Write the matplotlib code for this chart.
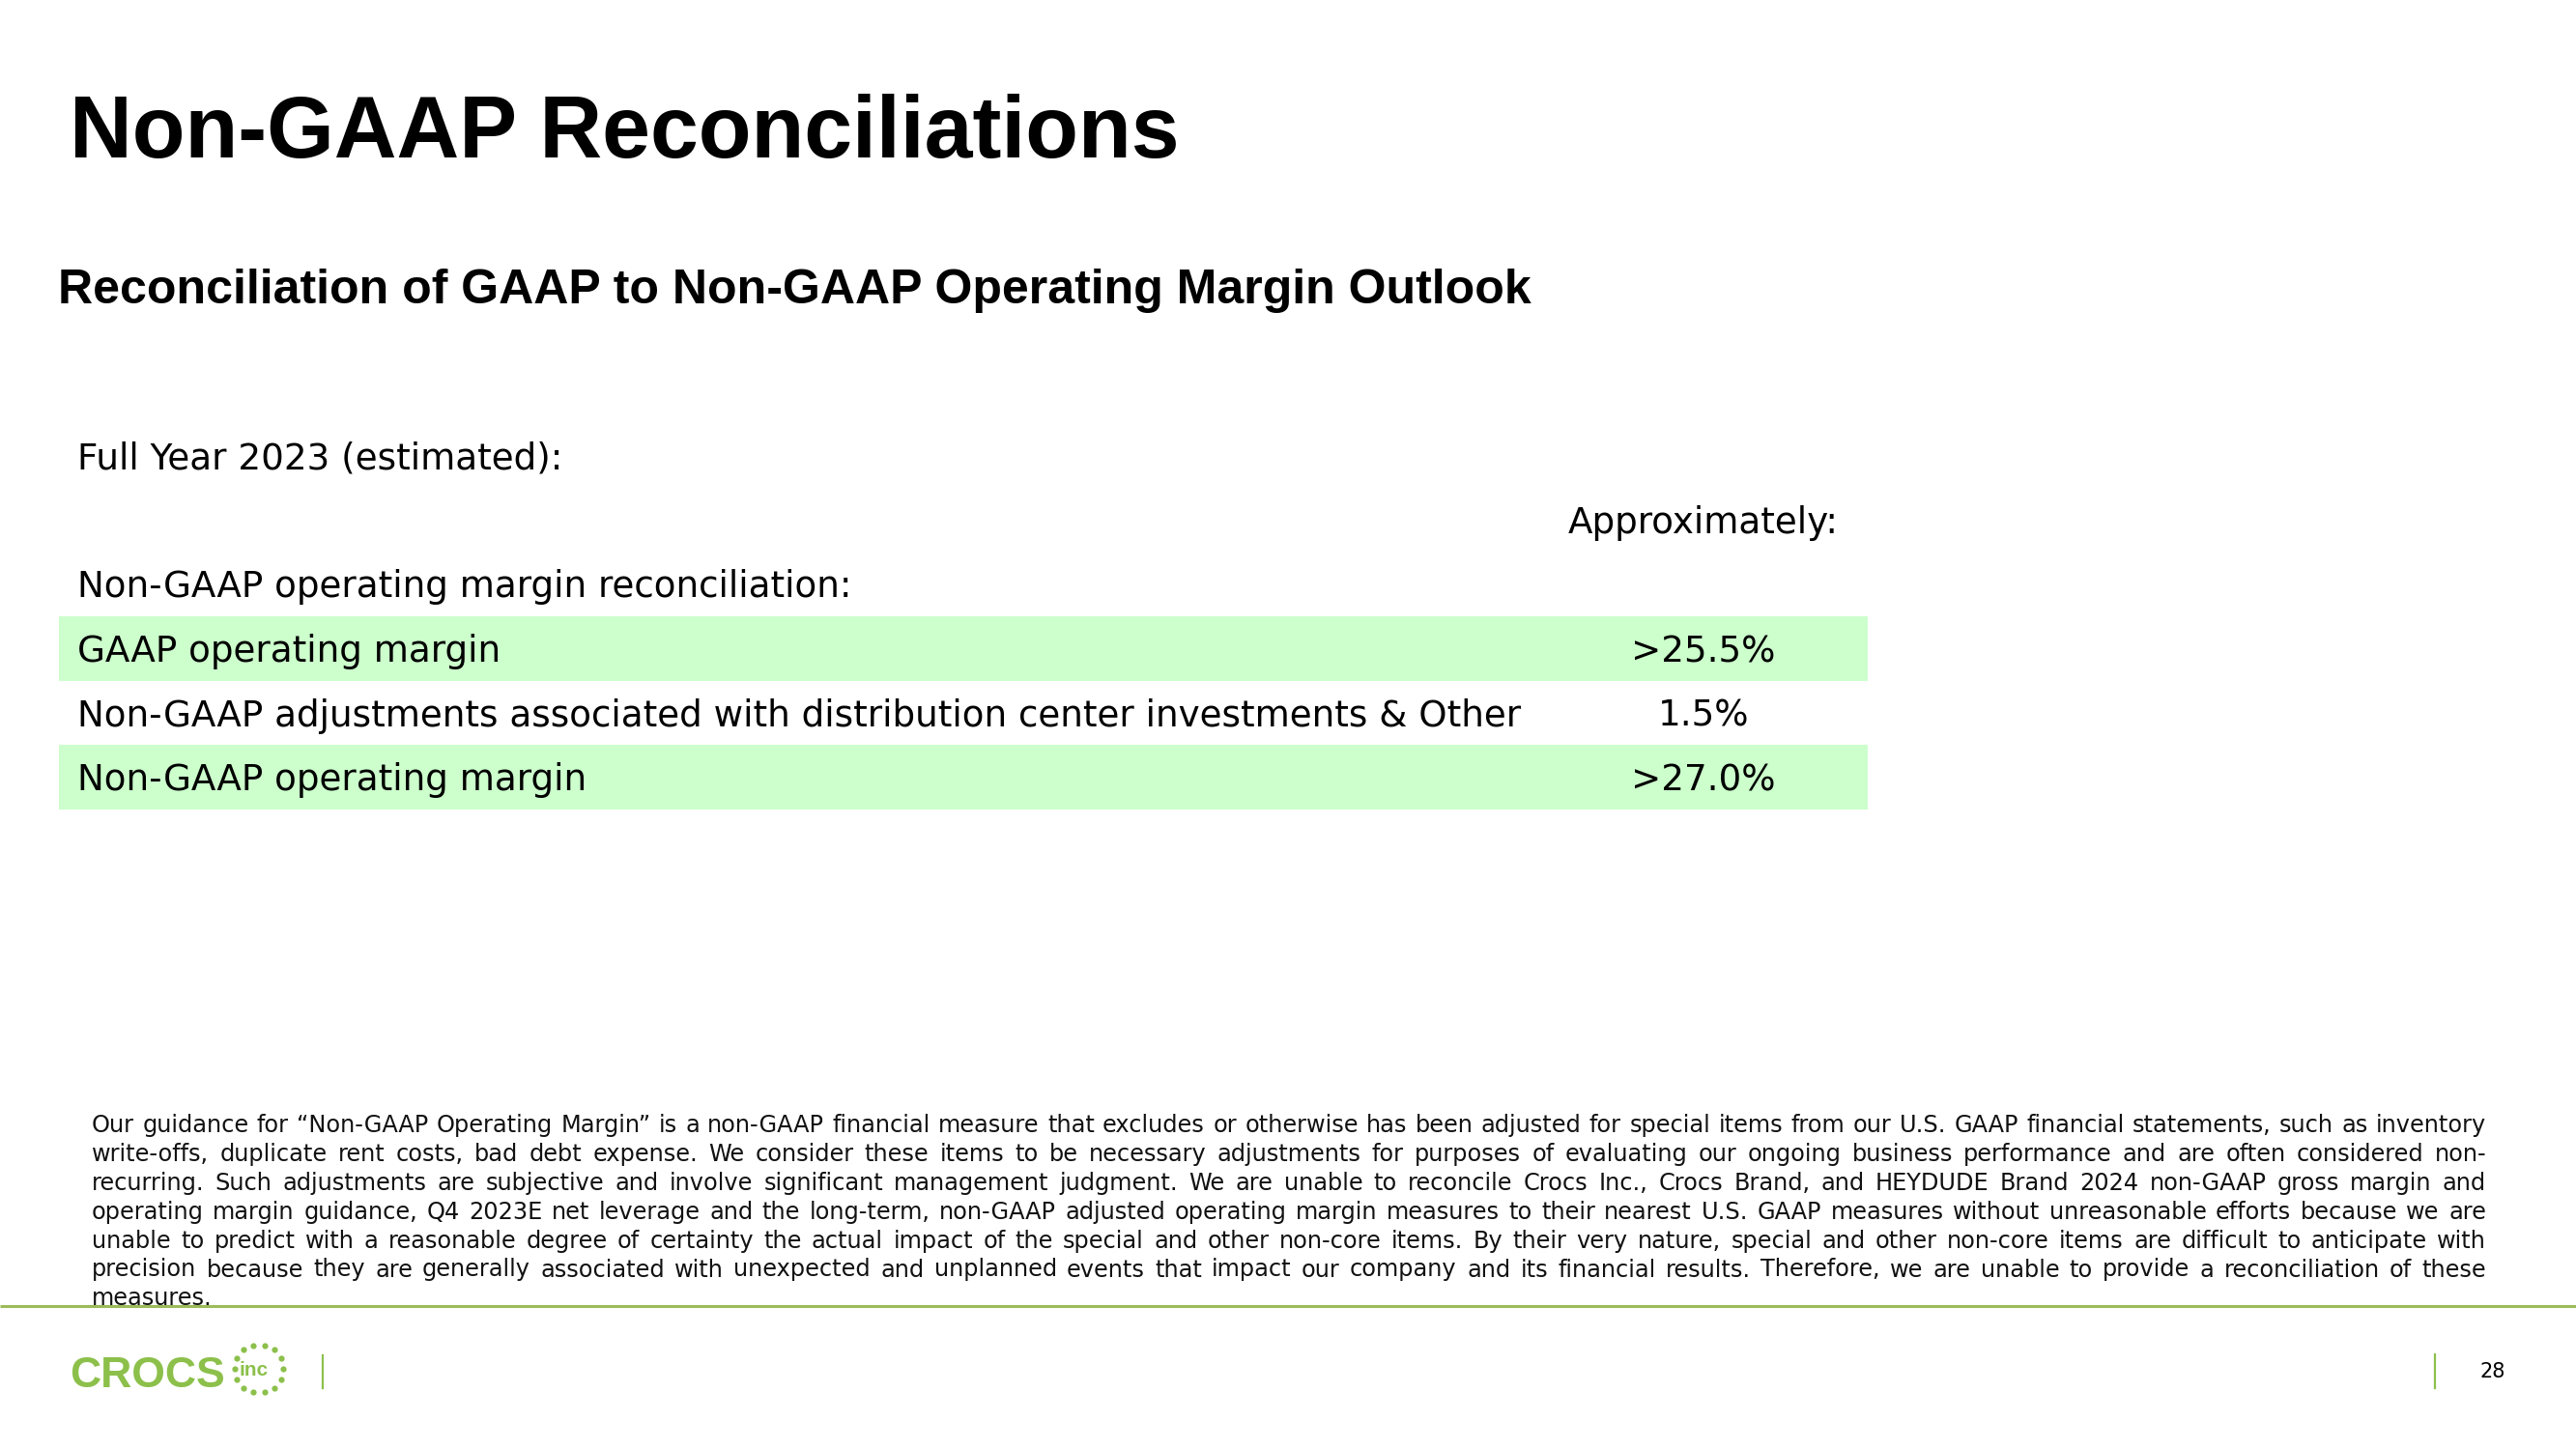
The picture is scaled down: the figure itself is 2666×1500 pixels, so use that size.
import matplotlib
matplotlib.use("Agg")
import matplotlib.pyplot as plt
import numpy as np

W, H = 2666, 1500

title = "Non-GAAP Reconciliations"
subtitle = "Reconciliation of GAAP to Non-GAAP Operating Margin Outlook"
period = "Full Year 2023 (estimated):"
col_header = "Approximately:"
section = "Non-GAAP operating margin reconciliation:"

row_labels = [
    "GAAP operating margin",
    "Non-GAAP adjustments associated with distribution center investments & Other",
    "Non-GAAP operating margin",
]
row_values = [">25.5%", "1.5%", ">27.0%"]
row_shaded = [True, False, True]

footnote_lines = [
    "Our guidance for \u201cNon-GAAP Operating Margin\u201d is a non-GAAP financial measure that excludes or otherwise has been adjusted for special items from our U.S. GAAP financial statements, such as inventory",
    "write-offs, duplicate rent costs, bad debt expense. We consider these items to be necessary adjustments for purposes of evaluating our ongoing business performance and are often considered non-",
    "recurring. Such adjustments are subjective and involve significant management judgment.  We are unable to reconcile Crocs Inc., Crocs Brand, and HEYDUDE Brand 2024 non-GAAP gross margin and",
    "operating margin guidance, Q4 2023E net leverage and the long-term, non-GAAP adjusted operating margin measures to their nearest U.S. GAAP measures without unreasonable efforts because we are",
    "unable to predict with a reasonable degree of certainty the actual impact of the special and other non-core items. By their very nature, special and other non-core items are difficult to anticipate with",
    "precision because they are generally associated with unexpected and unplanned events that impact our company and its financial results. Therefore, we are unable to provide a reconciliation of these",
    "measures.",
]
page_number = "28"

GREEN_FILL = "#ccffcc"
OLIVE = "#9bbb59"
LOGO_GREEN = "#8cc04b"

fig = plt.figure(figsize=(W / 100, H / 100), dpi=100)
ax = fig.add_axes([0, 0, 1, 1])
ax.set_xlim(0, W)
ax.set_ylim(H, 0)
ax.axis("off")

# headings
ax.text(72, 163, title, fontfamily="Liberation Sans", fontweight="bold",
        fontsize=64.5, va="baseline")
ax.text(60, 314, subtitle, fontfamily="Liberation Sans", fontweight="bold",
        fontsize=36, va="baseline")

# table
body = dict(fontfamily="DejaVu Sans", fontsize=26.8, va="baseline", color="black")
x_label = 80
x_value = 1763
tbl_left, tbl_right = 61, 1933
row_top, row_h = 638, 66.5

ax.text(x_label, 485, period, **body)
ax.text(x_value, 552, col_header, ha="center", **body)
ax.text(x_label, 618, section, **body)

centers = row_top + row_h * (np.arange(len(row_labels)) + 0.5)
shade_y = [c for c, s in zip(centers, row_shaded) if s]
ax.barh(shade_y, tbl_right - tbl_left, left=tbl_left, height=row_h,
        color=GREEN_FILL, zorder=0)
for c, lab, val in zip(centers, row_labels, row_values):
    ax.text(x_label, c + 14, lab, **body)
    ax.text(x_value, c + 14, val, ha="center", **body)

# footnote, justified word by word
renderer = fig.canvas.get_renderer()
fn_left, fn_right = 95, 2573
fn_base, fn_step = 1172, 29.9
fn_size = 17.3
for i, line in enumerate(footnote_lines):
    y = fn_base + i * fn_step
    words = line.split()
    items = [ax.text(0, y, w, fontfamily="DejaVu Sans", fontsize=fn_size,
                     va="baseline", color="#111111") for w in words]
    widths = [t.get_window_extent(renderer).width for t in items]
    if i == len(footnote_lines) - 1 or len(words) == 1:
        gap = fn_size * 0.45
    else:
        gap = (fn_right - fn_left - sum(widths)) / (len(words) - 1)
    x = fn_left
    for t, w in zip(items, widths):
        t.set_x(x)
        x += w + gap

# footer rule
ax.plot([0, W], [1352, 1352], color=OLIVE, lw=2.2, solid_capstyle="butt")

# logo
ax.text(72, 1436, "CROCS", fontfamily="Liberation Sans", fontweight="heavy",
        fontsize=32, color=LOGO_GREEN, va="baseline")
ax.text(263, 1419, "inc", fontfamily="Liberation Sans", fontweight="bold",
        fontsize=15, color=LOGO_GREEN, ha="center", va="center")
ang = np.linspace(0, 2 * np.pi, 15)[:-1]
ax.scatter(268 + 25 * np.cos(ang), 1417 + 25 * np.sin(ang), s=20,
           color=LOGO_GREEN, linewidths=0)
ax.plot([334, 334], [1403, 1437], color=LOGO_GREEN, lw=1.6)
ax.plot([2520, 2520], [1402, 1437], color=LOGO_GREEN, lw=1.6)
ax.text(2580, 1420, page_number, fontfamily="DejaVu Sans", fontsize=15,
        ha="center", va="center")

fig.savefig("out.png", dpi=100)
